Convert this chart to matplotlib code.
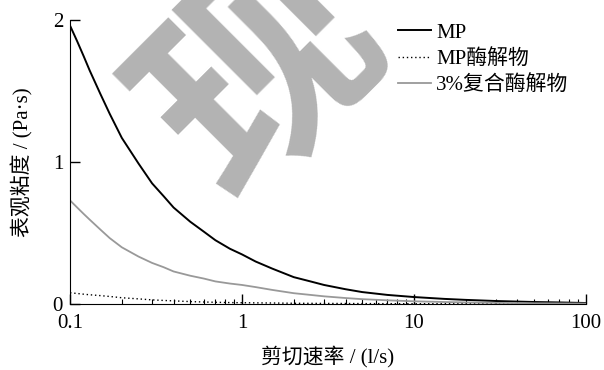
import numpy as np
import matplotlib
matplotlib.use("Agg")
from matplotlib import pyplot as plt
from matplotlib.ticker import LogLocator, NullFormatter, FixedLocator, FixedFormatter

plt.rcParams['font.family'] = ['Liberation Serif', 'Noto Sans CJK SC', 'DejaVu Sans']
plt.rcParams['font.size'] = 15

#-------------------------------------------------------------------
# shear rate (1/s) and apparent viscosity (Pa.s)
rate = [0.1, 0.11, 0.12, 0.13, 0.15, 0.17, 0.2, 0.25, 0.3, 0.35, 0.4, 0.5,
        0.6, 0.7, 0.85, 1, 1.2, 1.5, 2, 2.5, 3, 4, 5, 7, 10, 15, 20, 30,
        50, 70, 100]
mp = [1.96, 1.85, 1.745, 1.645, 1.48, 1.34, 1.17, 0.99, 0.85, 0.76, 0.68,
      0.58, 0.51, 0.45, 0.39, 0.35, 0.30, 0.25, 0.19, 0.16, 0.135, 0.105,
      0.085, 0.065, 0.05, 0.037, 0.03, 0.022, 0.015, 0.012, 0.008]
mp_hydro = [0.08, 0.075, 0.07, 0.066, 0.06, 0.054, 0.045, 0.037, 0.03,
            0.026, 0.023, 0.018, 0.015, 0.013, 0.011, 0.01, 0.009, 0.008,
            0.006, 0.0055, 0.005, 0.0045, 0.004, 0.0035, 0.003, 0.0028,
            0.0025, 0.0023, 0.002, 0.002, 0.002]
mix_hydro = [0.73, 0.68, 0.635, 0.595, 0.525, 0.465, 0.40, 0.335, 0.29,
             0.26, 0.23, 0.20, 0.18, 0.16, 0.145, 0.135, 0.12, 0.10,
             0.077, 0.065, 0.055, 0.043, 0.035, 0.027, 0.02, 0.015, 0.012,
             0.009, 0.006, 0.005, 0.004]

labels = ['MP', 'MP酶解物', '3%复合酶解物']
xticks = [0.1, 1, 10, 100]
xticklabels = ['0.1', '1', '10', '100']
yticks = [0, 1, 2]

#-------------------------------------------------------------------
fig = plt.figure(figsize=(6.04, 3.70), dpi=100)
ax = fig.add_axes([0.116, 0.178, 0.854, 0.768])

# watermark
fig.text(0.437, 0.794, '现', fontsize=163, fontweight='bold', color='#b3b3b3',
         rotation=45, ha='center', va='center', family='Noto Sans CJK SC',
         zorder=0.5)

ax.plot(rate, mp, color='black', lw=1.4, label=labels[0])
ax.plot(rate, mp_hydro, color='black', lw=1.0, linestyle=(0, (1, 2)), label=labels[1])
ax.plot(rate, mix_hydro, color='#999999', lw=1.3, label=labels[2])

ax.set_xscale('log')
ax.set_xlim(0.1, 100)
ax.set_ylim(0, 2)
ax.xaxis.set_major_locator(FixedLocator(xticks))
ax.xaxis.set_major_formatter(FixedFormatter(xticklabels))
ax.xaxis.set_minor_locator(LogLocator(base=10, subs=np.arange(2, 10)))
ax.xaxis.set_minor_formatter(NullFormatter())
ax.set_yticks(yticks)
ax.set_yticklabels([str(v) for v in yticks])

ax.spines['top'].set_visible(False)
ax.spines['right'].set_visible(False)
ax.patch.set_alpha(0)
ax.tick_params(axis='both', which='major', direction='in', length=7, width=1, labelsize=15)
ax.tick_params(axis='x', which='major', pad=7)
ax.tick_params(axis='y', which='major', pad=5)
ax.tick_params(axis='x', which='minor', direction='in', length=3.5, width=0.8)

ax.set_xlabel('剪切速率 / (l/s)', fontsize=15, labelpad=9)
ax.set_ylabel('表观粘度 / (Pa·s)', fontsize=15, labelpad=14)

ax.legend(loc='upper left', bbox_to_anchor=(0.599, 1.055), frameon=False,
          handlelength=1.6, handletextpad=0.25, labelspacing=0.3, fontsize=15)

plt.savefig('out.png', dpi=100)
